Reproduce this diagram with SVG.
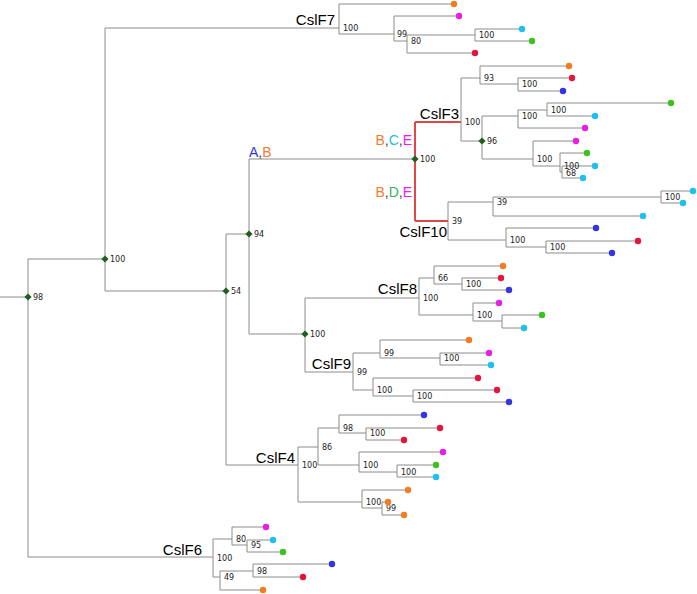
<svg xmlns="http://www.w3.org/2000/svg" width="697" height="594" viewBox="0 0 697 594">
<style>
.e{stroke:#8c8c8c;stroke-width:1;fill:none}
.r{stroke:#e04848;stroke-width:2;fill:none}
.b{font-family:"DejaVu Sans",sans-serif;font-size:8px;fill:#222}
.c{font-family:"Liberation Sans",Arial,sans-serif;font-size:15px;fill:#000}
.a{font-family:"Liberation Sans",Arial,sans-serif;font-size:14px;fill:#444}
.dm{fill:#1f5f1f}
.o{fill:#f47b20}.m{fill:#e81ee8}.cy{fill:#1ec0f0}.g{fill:#3cc21e}.rd{fill:#e4143c}.bl{fill:#3434e0}
</style>
<defs>
<path id="dia" d="M0,-3.6 L3.6,0 L0,3.6 L-3.6,0 Z"/>
<circle id="dot" r="3.2"/>
</defs>
<rect width="697" height="594" fill="#fff"/>
<g id="connectors">
<path class="e" d="M0,297 H28 M28,259 V557
M28,259 H105 M105,28 V291
M105,28 H339 M339,4 V34 M339,4 H454
M339,34 H394 M394,16 V41 M394,16 H459
M394,41 H407 M407,35 V53 M407,35 H475 M475,29 V41 M475,29 H522 M475,41 H532 M407,53 H475
M105,291 H226 M226,234 V465
M226,234 H249 M249,159 V334
M249,159 H415
M461,78 V141
M461,78 H480 M480,66 V84 M480,66 H569
M480,84 H518 M518,78 V91 M518,78 H572 M518,91 H563
M461,141 H482 M482,116 V159
M482,116 H518 M518,110 V128
M518,110 H547 M547,103 V116 M547,103 H671 M547,116 H595
M518,128 H585
M482,159 H533 M533,141 V166 M533,141 H576
M533,166 H560 M560,153 V172 M560,153 H587
M560,172 H562 M562,166 V178 M562,166 H595 M562,178 H583
M448,202 V240
M448,202 H493 M493,197 V216
M493,197 H661 M661,191 V203 M661,191 H693 M661,203 H683
M493,216 H643
M448,240 H506 M506,228 V247 M506,228 H596
M506,247 H546 M546,241 V253 M546,241 H638 M546,253 H612
M249,334 H305 M305,298 V372
M305,298 H419 M419,278 V315
M419,278 H434 M434,266 V284 M434,266 H503
M434,284 H462 M462,278 V290 M462,278 H501 M462,290 H509
M419,315 H473 M473,303 V321 M473,303 H499
M473,321 H502 M502,315 V328 M502,315 H542 M502,328 H524
M305,372 H353 M353,353 V390
M353,353 H380 M380,340 V358 M380,340 H469
M380,358 H440 M440,353 V365 M440,353 H489 M440,365 H491
M353,390 H373 M373,378 V396 M373,378 H478
M373,396 H413 M413,390 V402 M413,390 H497 M413,402 H509
M226,465 H298 M298,447 V502
M298,447 H318 M318,428 V465
M318,428 H339 M339,415 V433 M339,415 H424
M339,433 H366 M366,428 V440 M366,428 H440 M366,440 H404
M318,465 H359 M359,452 V472 M359,452 H443
M359,472 H397 M397,465 V477 M397,465 H436 M397,477 H436
M298,502 H362 M362,490 V508 M362,490 H408
M362,508 H382 M382,502 V515 M382,502 H388 M382,515 H404
M28,557 H213 M213,539 V577
M213,539 H232 M232,527 V545 M232,527 H266
M232,545 H247 M247,540 V552 M247,540 H273 M247,552 H283
M213,577 H220 M220,571 V590
M220,571 H253 M253,564 V577 M253,564 H332 M253,577 H303
M220,590 H263"/>
<path class="r" d="M415,122 V221 M415,122 H461 M415,221 H448"/>
</g>
<g id="clade-labels">
<text class="c" x="335" y="25" text-anchor="end">CslF7</text>
<text class="c" x="459" y="119" text-anchor="end">CslF3</text>
<text class="c" x="447" y="237" text-anchor="end">CslF10</text>
<text class="c" x="417" y="294" text-anchor="end">CslF8</text>
<text class="c" x="351" y="369" text-anchor="end">CslF9</text>
<text class="c" x="295" y="463" text-anchor="end">CslF4</text>
<text class="c" x="202" y="555" text-anchor="end">CslF6</text>
<text class="a" x="249" y="157"><tspan fill="#3434e0">A</tspan>,<tspan fill="#f47b30">B</tspan></text>
<text class="a" x="412" y="145" text-anchor="end"><tspan fill="#f47b30">B</tspan>,<tspan fill="#1ec0f0">C</tspan>,<tspan fill="#e81ee8">E</tspan></text>
<text class="a" x="412" y="197" text-anchor="end"><tspan fill="#f47b30">B</tspan>,<tspan fill="#3cb060">D</tspan>,<tspan fill="#e81ee8">E</tspan></text>
</g>
<g id="n-root"><use href="#dia" class="dm" x="28" y="297"/><text class="b" x="33" y="300">98</text></g>
<g id="n-100a"><use href="#dia" class="dm" x="105" y="259"/><text class="b" x="110" y="262">100</text></g>
<g id="n-54"><use href="#dia" class="dm" x="226" y="291"/><text class="b" x="231" y="294">54</text></g>
<g id="n-94"><use href="#dia" class="dm" x="249" y="234"/><text class="b" x="254" y="237">94</text></g>
<g id="n-f3f10"><use href="#dia" class="dm" x="415" y="159"/><text class="b" x="420" y="162">100</text></g>
<g id="n-96"><use href="#dia" class="dm" x="482" y="141"/><text class="b" x="487" y="144">96</text></g>
<g id="n-f8f9"><use href="#dia" class="dm" x="305" y="334"/><text class="b" x="310" y="337">100</text></g>
<g id="n-f7"><text class="b" x="343" y="31">100</text></g>
<g id="n-f7b"><text class="b" x="397" y="37">99</text></g>
<g id="n-f7c"><text class="b" x="411" y="44">80</text></g>
<g id="n-f7d"><text class="b" x="479" y="38">100</text></g>
<g id="n-f3"><text class="b" x="465" y="125">100</text></g>
<g id="n-f3a"><text class="b" x="484" y="81">93</text></g>
<g id="n-f3b"><text class="b" x="522" y="87">100</text></g>
<g id="n-f3c"><text class="b" x="522" y="119">100</text></g>
<g id="n-f3d"><text class="b" x="551" y="113">100</text></g>
<g id="n-f3e"><text class="b" x="537" y="162">100</text></g>
<g id="n-f3f"><text class="b" x="564" y="169">100</text></g>
<g id="n-f3g"><text class="b" x="566" y="176">68</text></g>
<g id="n-f10"><text class="b" x="452" y="224">39</text></g>
<g id="n-f10a"><text class="b" x="497" y="205">39</text></g>
<g id="n-f10b"><text class="b" x="665" y="200">100</text></g>
<g id="n-f10c"><text class="b" x="510" y="243">100</text></g>
<g id="n-f10d"><text class="b" x="550" y="250">100</text></g>
<g id="n-f8"><text class="b" x="423" y="301">100</text></g>
<g id="n-f8a"><text class="b" x="438" y="281">66</text></g>
<g id="n-f8b"><text class="b" x="466" y="287">100</text></g>
<g id="n-f8c"><text class="b" x="477" y="318">100</text></g>
<g id="n-f9"><text class="b" x="357" y="375">99</text></g>
<g id="n-f9a"><text class="b" x="384" y="356">99</text></g>
<g id="n-f9b"><text class="b" x="444" y="361">100</text></g>
<g id="n-f9c"><text class="b" x="377" y="393">100</text></g>
<g id="n-f9d"><text class="b" x="417" y="399">100</text></g>
<g id="n-f4"><text class="b" x="302" y="468">100</text></g>
<g id="n-f4a"><text class="b" x="322" y="450">86</text></g>
<g id="n-f4b"><text class="b" x="343" y="431">98</text></g>
<g id="n-f4c"><text class="b" x="370" y="436">100</text></g>
<g id="n-f4d"><text class="b" x="363" y="468">100</text></g>
<g id="n-f4e"><text class="b" x="401" y="475">100</text></g>
<g id="n-f4f"><text class="b" x="366" y="505">100</text></g>
<g id="n-f4g"><text class="b" x="386" y="511">99</text></g>
<g id="n-f6"><text class="b" x="217" y="561">100</text></g>
<g id="n-f6a"><text class="b" x="236" y="542">80</text></g>
<g id="n-f6b"><text class="b" x="251" y="548">95</text></g>
<g id="n-f6c"><text class="b" x="224" y="580">49</text></g>
<g id="n-f6d"><text class="b" x="257" y="574">98</text></g>
<g id="leaves">
<g id="l1"><use href="#dot" class="o" x="454" y="4"/></g>
<g id="l2"><use href="#dot" class="m" x="459" y="16"/></g>
<g id="l3"><use href="#dot" class="cy" x="522" y="29"/></g>
<g id="l4"><use href="#dot" class="g" x="532" y="41"/></g>
<g id="l5"><use href="#dot" class="rd" x="475" y="53"/></g>
<g id="l6"><use href="#dot" class="o" x="569" y="66"/></g>
<g id="l7"><use href="#dot" class="rd" x="572" y="78"/></g>
<g id="l8"><use href="#dot" class="bl" x="563" y="91"/></g>
<g id="l9"><use href="#dot" class="g" x="671" y="103"/></g>
<g id="l10"><use href="#dot" class="cy" x="595" y="116"/></g>
<g id="l11"><use href="#dot" class="m" x="585" y="128"/></g>
<g id="l12"><use href="#dot" class="m" x="576" y="141"/></g>
<g id="l13"><use href="#dot" class="g" x="587" y="153"/></g>
<g id="l14"><use href="#dot" class="cy" x="595" y="166"/></g>
<g id="l15"><use href="#dot" class="cy" x="583" y="178"/></g>
<g id="l16"><use href="#dot" class="cy" x="693" y="191"/></g>
<g id="l17"><use href="#dot" class="cy" x="683" y="203"/></g>
<g id="l18"><use href="#dot" class="cy" x="643" y="216"/></g>
<g id="l19"><use href="#dot" class="bl" x="596" y="228"/></g>
<g id="l20"><use href="#dot" class="rd" x="638" y="241"/></g>
<g id="l21"><use href="#dot" class="bl" x="612" y="253"/></g>
<g id="l22"><use href="#dot" class="o" x="503" y="266"/></g>
<g id="l23"><use href="#dot" class="rd" x="501" y="278"/></g>
<g id="l24"><use href="#dot" class="bl" x="509" y="290"/></g>
<g id="l25"><use href="#dot" class="m" x="499" y="303"/></g>
<g id="l26"><use href="#dot" class="g" x="542" y="315"/></g>
<g id="l27"><use href="#dot" class="cy" x="524" y="328"/></g>
<g id="l28"><use href="#dot" class="o" x="469" y="340"/></g>
<g id="l29"><use href="#dot" class="m" x="489" y="353"/></g>
<g id="l30"><use href="#dot" class="cy" x="491" y="365"/></g>
<g id="l31"><use href="#dot" class="rd" x="478" y="378"/></g>
<g id="l32"><use href="#dot" class="rd" x="497" y="390"/></g>
<g id="l33"><use href="#dot" class="bl" x="509" y="402"/></g>
<g id="l34"><use href="#dot" class="bl" x="424" y="415"/></g>
<g id="l35"><use href="#dot" class="rd" x="440" y="428"/></g>
<g id="l36"><use href="#dot" class="rd" x="404" y="440"/></g>
<g id="l37"><use href="#dot" class="m" x="443" y="452"/></g>
<g id="l38"><use href="#dot" class="g" x="436" y="465"/></g>
<g id="l39"><use href="#dot" class="cy" x="436" y="477"/></g>
<g id="l40"><use href="#dot" class="o" x="408" y="490"/></g>
<g id="l41"><use href="#dot" class="o" x="388" y="502"/></g>
<g id="l42"><use href="#dot" class="o" x="404" y="515"/></g>
<g id="l43"><use href="#dot" class="m" x="266" y="527"/></g>
<g id="l44"><use href="#dot" class="cy" x="273" y="540"/></g>
<g id="l45"><use href="#dot" class="g" x="283" y="552"/></g>
<g id="l46"><use href="#dot" class="bl" x="332" y="564"/></g>
<g id="l47"><use href="#dot" class="rd" x="303" y="577"/></g>
<g id="l48"><use href="#dot" class="o" x="263" y="590"/></g>
</g>
</svg>
